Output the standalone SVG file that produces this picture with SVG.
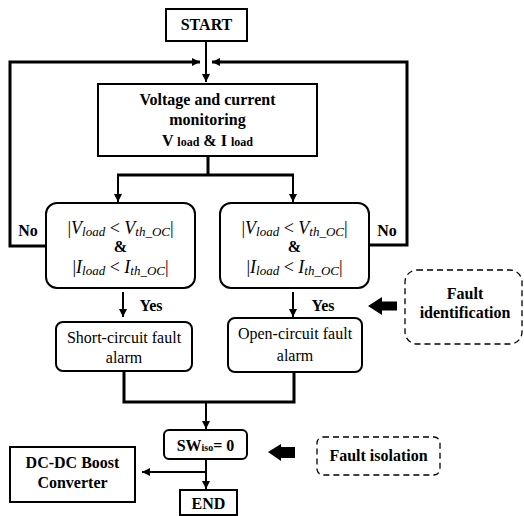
<svg xmlns="http://www.w3.org/2000/svg" width="524" height="516" viewBox="0 0 524 516">
<style>
.box{fill:#fff;stroke:#000;stroke-width:2}
.dash{fill:#fff;stroke:#000;stroke-width:1.3;stroke-dasharray:6,4}
.b{font-family:"Liberation Serif",serif;font-weight:bold;font-size:16px;text-anchor:middle;fill:#000}
.r{font-family:"Liberation Serif",serif;font-size:16px;text-anchor:middle;fill:#000}
.m{font-family:"Liberation Serif",serif;font-size:18px;text-anchor:middle;fill:#000}
.it{font-style:italic}
.thick{fill:none;stroke:#000;stroke-width:3}
.thin{fill:none;stroke:#000;stroke-width:2}
</style>
<defs>
<marker id="ah" markerUnits="userSpaceOnUse" markerWidth="9" markerHeight="9" refX="8" refY="4" orient="auto">
<path d="M0,0 L8,4 L0,8 z" fill="#000"/>
</marker>
</defs>
<g id="connectors">
<path class="thin" d="M206,41 V82" marker-end="url(#ah)"/>
<path class="thick" d="M47,246 H10 V62 H200" marker-end="url(#ah)"/>
<path class="thick" d="M370,245 H407 V62 H212" marker-end="url(#ah)"/>
<path class="thick" d="M208,156 V175 M117,175 H294"/>
<path class="thin" d="M118,175 V202" marker-end="url(#ah)"/>
<path class="thin" d="M293,175 V202" marker-end="url(#ah)"/>
<path class="thin" d="M123,292 V317" marker-end="url(#ah)"/>
<path class="thin" d="M293,292 V317" marker-end="url(#ah)"/>
<path class="thick" d="M124,371 V402 H294 V372"/>
<path class="thin" d="M206,402 V429" marker-end="url(#ah)"/>
<path class="thin" d="M206,460 V489" marker-end="url(#ah)"/>
<path class="thin" d="M206,472 H142" marker-end="url(#ah)"/>
<polygon points="368,306 382,297 382,301.5 397,301.5 397,310.5 382,310.5 382,315" fill="#000"/>
<polygon points="268,452 281,444 281,447 295,447 295,458 281,458 281,461" fill="#000"/>
</g>
<g id="start">
<rect class="box" x="166" y="9" width="81" height="32"/>
<text class="b" x="206.5" y="30" font-size="17">START</text>
</g>
<g id="monitoring">
<rect class="box" x="98" y="84" width="219" height="72"/>
<text class="b" x="207.5" y="105">Voltage and current</text>
<text class="b" x="207.5" y="125">monitoring</text>
<text class="b" x="207.5" y="146">V <tspan font-size="12">load</tspan> &amp; I <tspan font-size="12">load</tspan></text>
</g>
<g id="decision-left">
<rect class="box" x="46" y="203" width="149" height="85" rx="11"/>
<text class="m" x="120.5" y="234">|<tspan class="it">V</tspan><tspan class="it" font-size="13" dy="2">load</tspan><tspan dy="-2"> &lt; </tspan><tspan class="it">V</tspan><tspan class="it" font-size="13" dy="2">th_OC</tspan><tspan dy="-2">|</tspan></text>
<text class="b" x="120.5" y="252">&amp;</text>
<text class="m" x="120.5" y="273">|<tspan class="it">I</tspan><tspan class="it" font-size="13" dy="2">load</tspan><tspan dy="-2"> &lt; </tspan><tspan class="it">I</tspan><tspan class="it" font-size="13" dy="2">th_OC</tspan><tspan dy="-2">|</tspan></text>
<text class="b" x="28" y="236">No</text>
<text class="b" x="151" y="311">Yes</text>
</g>
<g id="decision-right">
<rect class="box" x="220" y="203" width="149" height="85" rx="11"/>
<text class="m" x="294.5" y="234">|<tspan class="it">V</tspan><tspan class="it" font-size="13" dy="2">load</tspan><tspan dy="-2"> &lt; </tspan><tspan class="it">V</tspan><tspan class="it" font-size="13" dy="2">th_OC</tspan><tspan dy="-2">|</tspan></text>
<text class="b" x="294.5" y="252">&amp;</text>
<text class="m" x="294.5" y="273">|<tspan class="it">I</tspan><tspan class="it" font-size="13" dy="2">load</tspan><tspan dy="-2"> &lt; </tspan><tspan class="it">I</tspan><tspan class="it" font-size="13" dy="2">th_OC</tspan><tspan dy="-2">|</tspan></text>
<text class="b" x="387" y="236">No</text>
<text class="b" x="323" y="311">Yes</text>
</g>
<g id="short-circuit">
<rect class="box" x="56" y="322" width="136" height="49" rx="7"/>
<text class="r" x="124" y="343">Short-circuit fault</text>
<text class="r" x="124" y="363">alarm</text>
</g>
<g id="open-circuit">
<rect class="box" x="228" y="318" width="134" height="54" rx="7"/>
<text class="r" x="295" y="339">Open-circuit fault</text>
<text class="r" x="295" y="361">alarm</text>
</g>
<g id="fault-identification">
<rect class="dash" x="405" y="270" width="117" height="74" rx="12"/>
<text class="b" x="465" y="299">Fault</text>
<text class="b" x="465" y="318">identification</text>
</g>
<g id="sw-iso">
<rect class="box" x="164" y="430" width="83" height="29" rx="5"/>
<text class="b" x="205.5" y="451" font-size="15">SW<tspan font-size="10">iso</tspan>= 0</text>
</g>
<g id="fault-isolation">
<rect class="dash" x="317" y="437" width="123" height="38" rx="6"/>
<text class="b" x="378.5" y="461">Fault isolation</text>
</g>
<g id="dc-dc">
<rect class="box" x="10" y="447" width="125" height="55"/>
<text class="b" x="72.5" y="468">DC-DC Boost</text>
<text class="b" x="72.5" y="488">Converter</text>
</g>
<g id="end">
<rect class="box" x="180" y="490" width="57" height="25"/>
<text class="b" x="208.5" y="509" font-size="15">END</text>
</g>
</svg>
